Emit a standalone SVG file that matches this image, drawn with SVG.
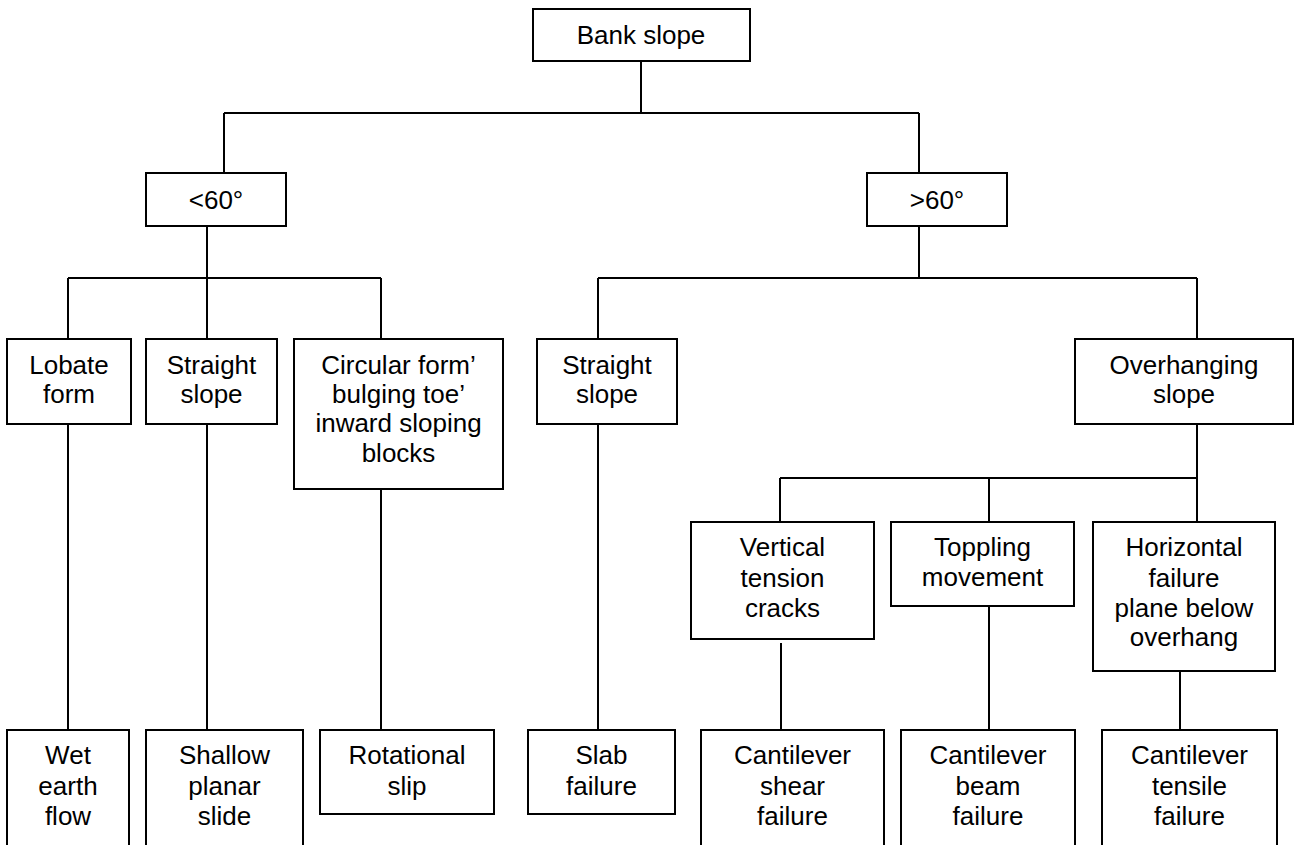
<svg xmlns="http://www.w3.org/2000/svg" width="1296" height="845" viewBox="0 0 1296 845">
<style>
.box{fill:#fff;stroke:#000;stroke-width:2}
.c{fill:none;stroke:#000;stroke-width:2}
text{font-family:"Liberation Sans",Arial,sans-serif;font-size:26px;fill:#000;text-anchor:middle}
</style>
<rect width="1296" height="845" fill="#fff"/>
<g id="connectors" class="c">
<path d="M641 61V113M224 113H919M224 113V173M919 113V173"/>
<path d="M207 226V278M68 278H381M68 278V339M207 278V339M381 278V339"/>
<path d="M919 226V278M598 278H1197M598 278V339M1197 278V339"/>
<path d="M68 424V730M207 424V730M381 489V730M598 424V730"/>
<path d="M1197 424V478M780 478H1197M780 478V522M989 478V522M1197 478V522"/>
<path d="M781 643V730M989 606V730M1180 671V730"/>
</g>
<g id="bank"><rect class="box" x="533" y="9" width="217" height="52"/><text x="641" y="44">Bank slope</text></g>
<g id="lt60"><rect class="box" x="146" y="173" width="140" height="53"/><text x="216" y="209">&lt;60°</text></g>
<g id="gt60"><rect class="box" x="867" y="173" width="140" height="53"/><text x="937" y="209">&gt;60°</text></g>
<g id="lobate"><rect class="box" x="7" y="339" width="124" height="85"/><text x="69" y="374">Lobate</text><text x="69" y="403">form</text></g>
<g id="straight1"><rect class="box" x="146" y="339" width="131" height="85"/><text x="211.5" y="374">Straight</text><text x="211.5" y="403">slope</text></g>
<g id="circular"><rect class="box" x="294" y="339" width="209" height="150"/><text x="398.5" y="374">Circular form’</text><text x="398.5" y="403">bulging toe’</text><text x="398.5" y="432">inward sloping</text><text x="398.5" y="462">blocks</text></g>
<g id="straight2"><rect class="box" x="537" y="339" width="140" height="85"/><text x="607" y="374">Straight</text><text x="607" y="403">slope</text></g>
<g id="overhanging"><rect class="box" x="1075" y="339" width="218" height="85"/><text x="1184" y="374">Overhanging</text><text x="1184" y="403">slope</text></g>
<g id="vertical"><rect class="box" x="691" y="522" width="183" height="117"/><text x="782.5" y="556">Vertical</text><text x="782.5" y="587">tension</text><text x="782.5" y="617">cracks</text></g>
<g id="toppling"><rect class="box" x="891" y="522" width="183" height="84"/><text x="982.5" y="556">Toppling</text><text x="982.5" y="586">movement</text></g>
<g id="horizontal"><rect class="box" x="1093" y="522" width="182" height="149"/><text x="1184" y="556">Horizontal</text><text x="1184" y="587">failure</text><text x="1184" y="617">plane below</text><text x="1184" y="646">overhang</text></g>
<g id="wet"><rect class="box" x="7" y="730" width="122" height="125"/><text x="68" y="764">Wet</text><text x="68" y="795">earth</text><text x="68" y="825">flow</text></g>
<g id="shallow"><rect class="box" x="146" y="730" width="157" height="125"/><text x="224.5" y="764">Shallow</text><text x="224.5" y="795">planar</text><text x="224.5" y="825">slide</text></g>
<g id="rotational"><rect class="box" x="320" y="730" width="174" height="84"/><text x="407" y="764">Rotational</text><text x="407" y="795">slip</text></g>
<g id="slab"><rect class="box" x="528" y="730" width="147" height="84"/><text x="601.5" y="764">Slab</text><text x="601.5" y="795">failure</text></g>
<g id="shear"><rect class="box" x="701" y="730" width="183" height="125"/><text x="792.5" y="764">Cantilever</text><text x="792.5" y="795">shear</text><text x="792.5" y="825">failure</text></g>
<g id="beam"><rect class="box" x="901" y="730" width="174" height="125"/><text x="988" y="764">Cantilever</text><text x="988" y="795">beam</text><text x="988" y="825">failure</text></g>
<g id="tensile"><rect class="box" x="1102" y="730" width="175" height="125"/><text x="1189.5" y="764">Cantilever</text><text x="1189.5" y="795">tensile</text><text x="1189.5" y="825">failure</text></g>
</svg>
